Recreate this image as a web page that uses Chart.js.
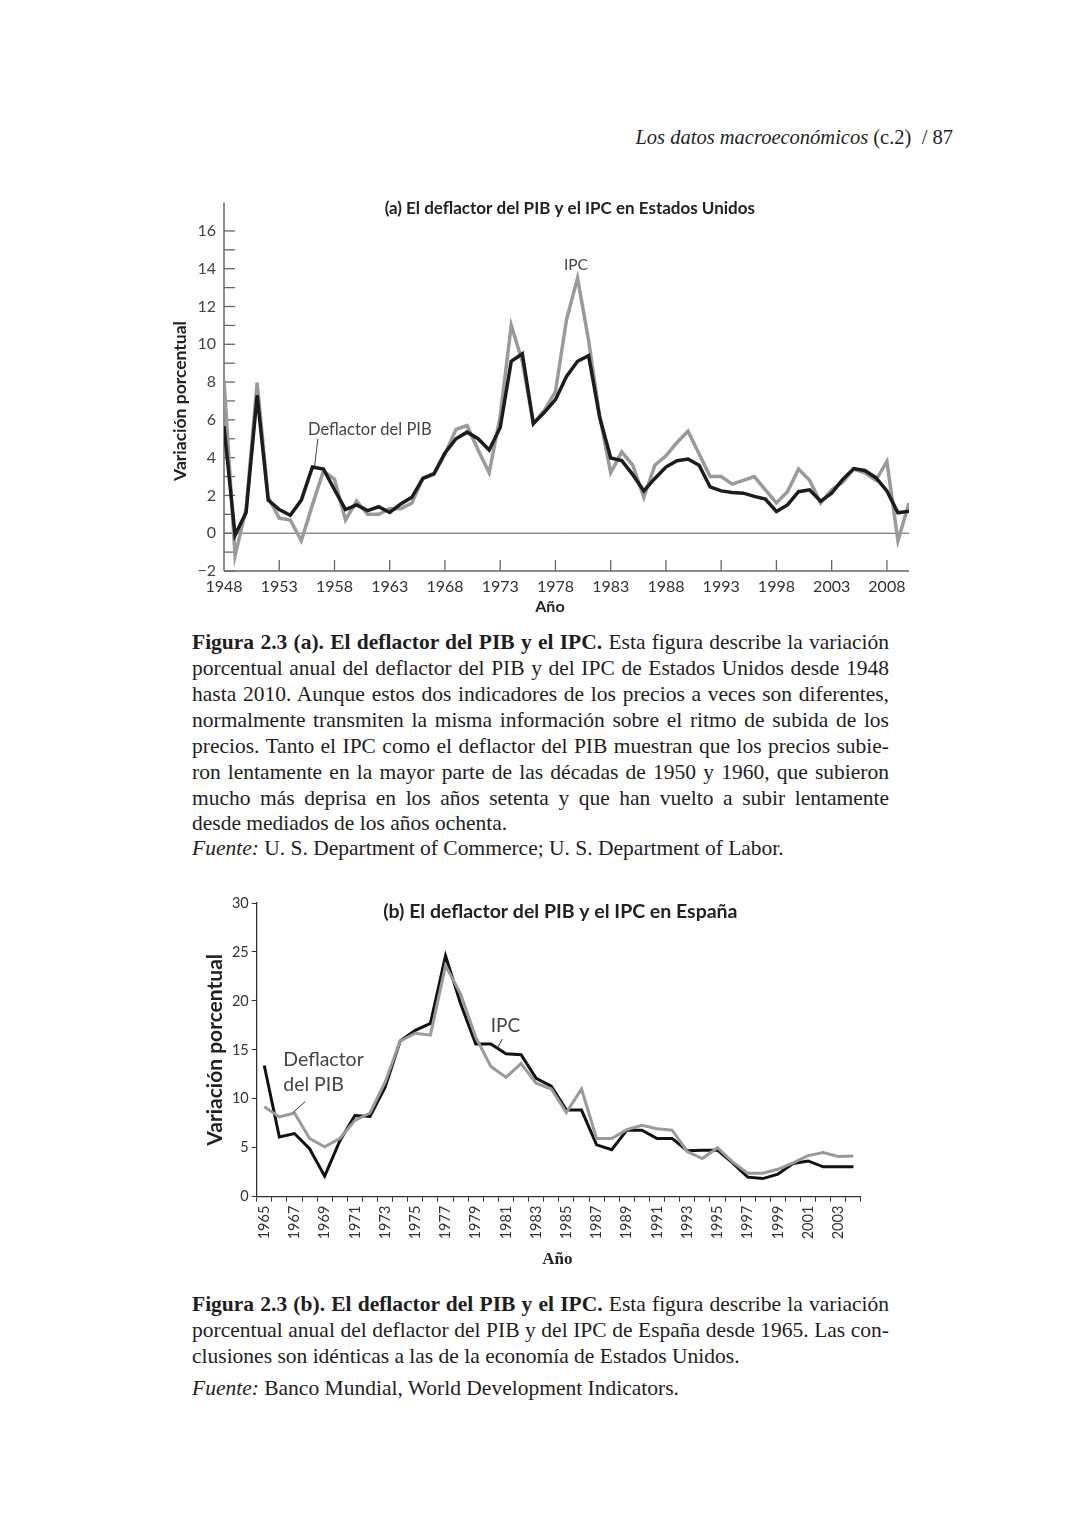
<!DOCTYPE html>
<html>
<head>
<meta charset="utf-8">
<script src="https://cdn.jsdelivr.net/npm/chart.js@4"></script>
<style>
  body { margin: 0; background: #fff; width: 1080px; height: 1523px; position: relative; overflow: hidden; }
  .t { position: absolute; font-family: "Liberation Serif", serif; font-size: 21.5px; line-height: 24px; color: #1e1e1e; white-space: nowrap; }
  .j { left: 192px; width: 697px; text-align: justify; text-align-last: justify; }
  .l { text-align-last: left; }
  canvas { position: absolute; }
</style>
</head>
<body>
<div class="t" style="right:127px;top:125px;font-size:20.5px;"><i>Los datos macroeconómicos</i> (c.2) &nbsp;/ 87</div>

<canvas id="chartA" width="780" height="440" style="left:150px;top:185px;"></canvas>

<div class="t j" style="top:630px;"><b>Figura 2.3 (a). El deflactor del PIB y el IPC.</b> Esta figura describe la variación</div>
<div class="t j" style="top:656px;">porcentual anual del deflactor del PIB y del IPC de Estados Unidos desde 1948</div>
<div class="t j" style="top:682px;">hasta 2010. Aunque estos dos indicadores de los precios a veces son diferentes,</div>
<div class="t j" style="top:708px;">normalmente transmiten la misma información sobre el ritmo de subida de los</div>
<div class="t j" style="top:734px;">precios. Tanto el IPC como el deflactor del PIB muestran que los precios subie-</div>
<div class="t j" style="top:760px;">ron lentamente en la mayor parte de las décadas de 1950 y 1960, que subieron</div>
<div class="t j" style="top:786px;">mucho más deprisa en los años setenta y que han vuelto a subir lentamente</div>
<div class="t j l" style="top:811px;">desde mediados de los años ochenta.</div>
<div class="t j l" style="top:836px;"><i>Fuente:</i> U. S. Department of Commerce; U. S. Department of Labor.</div>

<canvas id="chartB" width="680" height="385" style="left:195px;top:890px;"></canvas>

<div class="t j" style="top:1292px;"><b>Figura 2.3 (b). El deflactor del PIB y el IPC.</b> Esta figura describe la variación</div>
<div class="t j" style="top:1318px;">porcentual anual del deflactor del PIB y del IPC de España desde 1965. Las con-</div>
<div class="t j l" style="top:1344px;">clusiones son idénticas a las de la economía de Estados Unidos.</div>
<div class="t j l" style="top:1376px;"><i>Fuente:</i> Banco Mundial, World Development Indicators.</div>

<script>
// (a) Estados Unidos, 1948-2010
const usYears = [];
for (let y = 1948; y <= 2010; y++) usYears.push(y);
const usDeflactor = [
  5.66, -0.1, 1.1, 7.3, 1.75, 1.25, 0.95, 1.75, 3.5, 3.4,
  2.3, 1.25, 1.5, 1.2, 1.4, 1.1, 1.55, 1.9, 2.9, 3.15,
  4.25, 5.0, 5.35, 5.0, 4.4, 5.6, 9.1, 9.5, 5.8, 6.4,
  7.07, 8.3, 9.1, 9.4, 6.15, 3.98, 3.84, 3.1, 2.24, 2.9,
  3.5, 3.84, 3.93, 3.6, 2.45, 2.24, 2.15, 2.12, 1.95, 1.81,
  1.15, 1.5, 2.2, 2.3, 1.69, 2.12, 2.85, 3.42, 3.32, 2.94,
  2.24, 1.08, 1.16
];
const usIPC = [
  8.1, -1.2, 1.3, 7.97, 1.9, 0.8, 0.7, -0.4, 1.5, 3.3,
  2.85, 0.7, 1.7, 1.0, 1.0, 1.3, 1.3, 1.6, 2.9, 3.1,
  4.2, 5.5, 5.7, 4.4, 3.2, 6.2, 11.0, 9.1, 5.8, 6.5,
  7.5, 11.3, 13.5, 10.2, 6.2, 3.2, 4.3, 3.6, 1.9, 3.6,
  4.1, 4.8, 5.4, 4.2, 3.0, 3.0, 2.6, 2.8, 3.0, 2.3,
  1.6, 2.2, 3.4, 2.8, 1.6, 2.3, 2.7, 3.4, 3.2, 2.8,
  3.8, -0.4, 1.6
];
const usXTicks = [1948, 1953, 1958, 1963, 1968, 1973, 1978, 1983, 1988, 1993, 1998, 2003, 2008];
const usYTicks = [-2, -1, 0, 1, 2, 3, 4, 5, 6, 7, 8, 9, 10, 11, 12, 13, 14, 15, 16];

// (b) España, 1965-2004
const esYears = [];
for (let y = 1965; y <= 2004; y++) esYears.push(y);
const esIPC = [
  13.4, 6.1, 6.45, 4.9, 2.1, 5.7, 8.3, 8.2, 11.2, 15.9,
  17.0, 17.7, 24.6, 19.7, 15.6, 15.6, 14.6, 14.5, 12.1, 11.3,
  8.85, 8.85, 5.3, 4.8, 6.8, 6.8, 5.95, 5.95, 4.7, 4.75,
  4.75, 3.45, 2.0, 1.85, 2.3, 3.4, 3.65, 3.05, 3.05, 3.05
];
const esDeflactor = [
  9.2, 8.15, 8.55, 5.95, 5.1, 5.95, 7.8, 8.55, 11.7, 15.9,
  16.7, 16.5, 23.6, 20.7, 16.3, 13.3, 12.2, 13.6, 11.6, 11.0,
  8.6, 11.0, 5.95, 5.95, 6.85, 7.3, 6.95, 6.8, 4.6, 3.9,
  5.0, 3.55, 2.4, 2.4, 2.8, 3.45, 4.2, 4.5, 4.1, 4.15
];

const SANS = 'Lato, "Noto Sans", sans-serif';
const BLACK = '#1c1c1c';
const GRAY = '#9a9a9a';

function text(ctx, s, x, y, font, color, align, rot) {
  ctx.save();
  ctx.translate(x, y);
  if (rot) ctx.rotate(rot);
  ctx.font = font;
  ctx.fillStyle = color;
  ctx.textAlign = align || 'center';
  ctx.textBaseline = 'middle';
  ctx.fillText(s, 0, 0);
  ctx.restore();
}
function line(ctx, x1, y1, x2, y2, color, w) {
  ctx.save();
  ctx.strokeStyle = color;
  ctx.lineWidth = w;
  ctx.beginPath();
  ctx.moveTo(x1, y1);
  ctx.lineTo(x2, y2);
  ctx.stroke();
  ctx.restore();
}

// ---- chart (a)
new Chart(document.getElementById('chartA').getContext('2d'), {
  type: 'line',
  data: {
    datasets: [
      { label: 'Deflactor del PIB', data: usYears.map((y, i) => ({ x: y, y: usDeflactor[i] })),
        borderColor: BLACK, borderWidth: 3.5, pointRadius: 0, tension: 0 },
      { label: 'IPC', data: usYears.map((y, i) => ({ x: y, y: usIPC[i] })),
        borderColor: GRAY, borderWidth: 3.5, pointRadius: 0, tension: 0 }
    ]
  },
  options: {
    responsive: false,
    animation: false,
    events: [],
    layout: { padding: { left: 0, top: 12, right: 21, bottom: 0 } },
    plugins: { legend: { display: false }, tooltip: { enabled: false } },
    scales: {
      x: {
        type: 'linear', min: 1948, max: 2010,
        afterBuildTicks: s => { s.ticks = usXTicks.map(v => ({ value: v })); },
        afterFit: s => { s.height = 54; },
        grid: { display: false, drawTicks: false }, border: { display: false },
        ticks: { padding: 6, autoSkip: false, maxRotation: 0, color: '#333',
                 font: { family: SANS, size: 16 }, callback: v => String(v) }
      },
      y: {
        min: -2, max: 17.5,
        afterBuildTicks: s => { s.ticks = usYTicks.map(v => ({ value: v })); },
        afterFit: s => { s.width = 74; },
        grid: { display: false, drawTicks: false }, border: { display: false },
        ticks: { padding: 8, color: '#444', font: { family: SANS, size: 16 },
                 callback: v => v % 2 === 0 ? (v < 0 ? '\u2212' + Math.abs(v) : String(v)) : '' }
      }
    }
  },
  plugins: [{
    id: 'frameA',
    beforeDatasetsDraw(chart) {
      const ctx = chart.ctx, ca = chart.chartArea, xs = chart.scales.x, ys = chart.scales.y;
      const y0 = ys.getPixelForValue(0);
      line(ctx, ca.left, y0, ca.right, y0, '#555', 1);
      line(ctx, ca.left, ca.top, ca.left, ca.bottom, '#666', 1.5);
      line(ctx, ca.left, ca.bottom, ca.right, ca.bottom, '#666', 1.5);
      usYTicks.forEach(v => {
        const p = ys.getPixelForValue(v);
        line(ctx, ca.left, p, ca.left + 11, p, '#666', 1.3);
      });
      usXTicks.slice(1).forEach(v => {
        const p = xs.getPixelForValue(v);
        line(ctx, p, ca.bottom, p, ca.bottom - 11, '#666', 1.3);
      });
    },
    afterDraw(chart) {
      const ctx = chart.ctx, ca = chart.chartArea, xs = chart.scales.x, ys = chart.scales.y;
      text(ctx, '(a) El deflactor del PIB y el IPC en Estados Unidos',
           xs.getPixelForValue(1979.3), ca.top + 6, 'bold 17px ' + SANS, '#222');
      text(ctx, 'Variación porcentual', ca.left - 44, ys.getPixelForValue(7),
           'bold 17.5px ' + SANS, '#222', 'center', -Math.PI / 2);
      text(ctx, 'Año', xs.getPixelForValue(1977.5), ca.bottom + 36, 'bold 16px ' + SANS, '#222');
      text(ctx, 'Deflactor del PIB', xs.getPixelForValue(1961.2), ys.getPixelForValue(5.5),
           '16.5px ' + SANS, '#444');
      line(ctx, xs.getPixelForValue(1956.5), ys.getPixelForValue(5.0),
           xs.getPixelForValue(1956.2), ys.getPixelForValue(3.55), '#444', 1);
      text(ctx, 'IPC', xs.getPixelForValue(1979.85), ys.getPixelForValue(14.2), '15.5px ' + SANS, '#444');
    }
  }]
});

// ---- chart (b)
new Chart(document.getElementById('chartB').getContext('2d'), {
  type: 'line',
  data: {
    labels: esYears.map(String),
    datasets: [
      { label: 'Deflactor del PIB', data: esDeflactor,
        borderColor: GRAY, borderWidth: 3, pointRadius: 0, tension: 0 },
      { label: 'IPC', data: esIPC,
        borderColor: '#111', borderWidth: 3, pointRadius: 0, tension: 0 }
    ]
  },
  options: {
    responsive: false,
    animation: false,
    events: [],
    layout: { padding: { left: 0, top: 13, right: 14, bottom: 0 } },
    plugins: { legend: { display: false }, tooltip: { enabled: false } },
    scales: {
      x: {
        type: 'category', offset: true,
        afterFit: s => { s.height = 78.3; },
        grid: { display: true, offset: true, drawOnChartArea: false, drawTicks: true,
                tickLength: 5, color: '#333', lineWidth: 1 },
        border: { display: true, color: '#333', width: 1.3 },
        ticks: { autoSkip: false, maxRotation: 90, minRotation: 90, padding: 4, color: '#333',
                 font: { family: SANS, size: 14.5 },
                 callback: (v, i) => esYears[i] % 2 === 1 ? String(esYears[i]) : '' }
      },
      y: {
        min: 0, max: 30,
        afterFit: s => { s.width = 61.7; },
        grid: { drawOnChartArea: false, drawTicks: true, tickLength: 5, color: '#333' },
        border: { display: true, color: '#333', width: 1.3 },
        ticks: { stepSize: 5, padding: 3, color: '#333', font: { family: SANS, size: 14.5 } }
      }
    }
  },
  plugins: [{
    id: 'notesB',
    afterDraw(chart) {
      const ctx = chart.ctx, ca = chart.chartArea, xs = chart.scales.x, ys = chart.scales.y;
      text(ctx, '(b) El deflactor del PIB y el IPC en España',
           xs.getPixelForValue(19.6), ca.top + 9, 'bold 19.5px ' + SANS, '#222');
      text(ctx, 'Variación porcentual', ca.left - 41.7, ys.getPixelForValue(15),
           'bold 21px ' + SANS, '#222', 'center', -Math.PI / 2);
      text(ctx, 'Año', xs.getPixelForValue(19.4), ca.bottom + 63,
           'bold 17px "Liberation Serif", serif', '#222');
      text(ctx, 'Deflactor', xs.getPixelForValue(1.26), ys.getPixelForValue(14.0),
           '19.5px ' + SANS, '#444', 'left');
      text(ctx, 'del PIB', xs.getPixelForValue(1.26), ys.getPixelForValue(11.4),
           '19.5px ' + SANS, '#444', 'left');
      line(ctx, xs.getPixelForValue(2.7), ys.getPixelForValue(9.7),
           xs.getPixelForValue(1.9), ys.getPixelForValue(8.6), '#333', 1);
      text(ctx, 'IPC', xs.getPixelForValue(15.96), ys.getPixelForValue(17.45),
           '19px ' + SANS, '#444');
      line(ctx, xs.getPixelForValue(15.76), ys.getPixelForValue(16.1),
           xs.getPixelForValue(15.4), ys.getPixelForValue(15.1), '#333', 1);
    }
  }]
});
</script>
</body>
</html>
